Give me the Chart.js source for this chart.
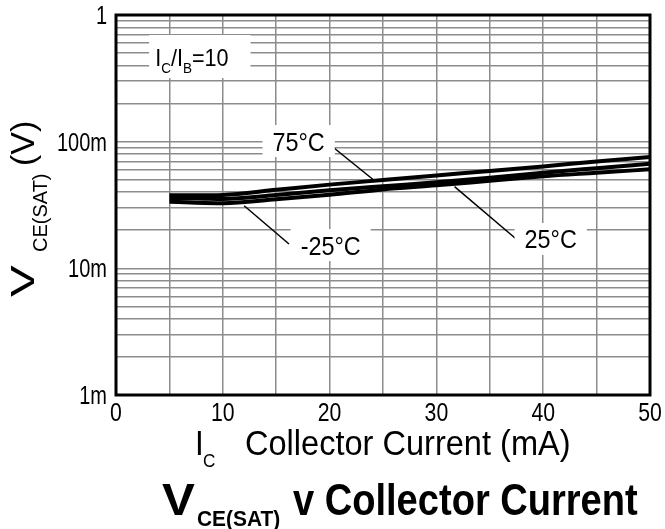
<!DOCTYPE html>
<html>
<head>
<meta charset="utf-8">
<script src="https://cdn.jsdelivr.net/npm/chart.js@4.4.1/dist/chart.umd.min.js"></script>
<style>
  html, body { margin: 0; padding: 0; background: #fff; }
  canvas { display: block; }
</style>
</head>
<body>
<canvas id="chart" width="665" height="529"></canvas>
<script>
// collector current, mA
const currents = [5, 7.5, 10, 15, 20, 25, 30, 35, 40, 45, 50];
// VCE(sat) in volts
const vce75 = [0.0377, 0.0377, 0.0380, 0.0417, 0.0458, 0.0498, 0.0541, 0.0587, 0.0638, 0.0697, 0.0756];
const vce25 = [0.0356, 0.0356, 0.0353, 0.0379, 0.0413, 0.0445, 0.0478, 0.0519, 0.0569, 0.0618, 0.0670];
const vceM25 = [0.0336, 0.0330, 0.0327, 0.0351, 0.0381, 0.0420, 0.0452, 0.0491, 0.0533, 0.0568, 0.0605];

const yDecades = [0.001, 0.01, 0.1, 1];
const yDecadeLabels = ['1m', '10m', '100m', '1'];
const xTickLabels = [0, 10, 20, 30, 40, 50];

// curve labels: text, label position, pointer from -> to (data units)
const curveNotes = [
  { text: '75°C', x: 17.1, y: 0.1012, from: [20.3, 0.0908], to: [24.3, 0.0485] },
  { text: '-25°C', x: 20.1, y: 0.01528, from: [16.2, 0.01556], to: [12.0, 0.0312] },
  { text: '25°C', x: 40.7, y: 0.01705, from: [37.8, 0.01614], to: [31.7, 0.0442] }
];
const ratioNote = { x: 7.1, y: 0.466 };

const FONT = "'Liberation Sans', Arial, sans-serif";

function toPoints(ys) {
  return currents.map((c, i) => ({ x: c, y: ys[i] }));
}

function setFont(ctx, size, bold) {
  ctx.font = (bold ? 'bold ' : '') + size + 'px ' + FONT;
}

// horizontally squeezed text, returns drawn width
function sText(ctx, text, x, y, size, sx, bold, align) {
  setFont(ctx, size, bold);
  const w = ctx.measureText(text).width * sx;
  let x0 = x;
  if (align === 'center') x0 = x - w / 2;
  if (align === 'right') x0 = x - w;
  ctx.save();
  ctx.translate(x0, y);
  ctx.scale(sx, 1);
  ctx.textAlign = 'left';
  ctx.fillText(text, 0, 0);
  ctx.restore();
  return w;
}
function sWidth(ctx, text, size, sx, bold) {
  setFont(ctx, size, bold);
  return ctx.measureText(text).width * sx;
}

const notesPlugin = {
  id: 'notes',
  beforeDatasetsDraw(chart) {
    const ctx = chart.ctx;
    const xs = chart.scales.x, ys = chart.scales.y;
    ctx.save();
    ctx.strokeStyle = '#000';
    ctx.lineWidth = 1.5;
    ctx.textBaseline = 'alphabetic';
    curveNotes.forEach(n => {
      ctx.beginPath();
      ctx.moveTo(xs.getPixelForValue(n.from[0]), ys.getPixelForValue(n.from[1]));
      ctx.lineTo(xs.getPixelForValue(n.to[0]), ys.getPixelForValue(n.to[1]));
      ctx.stroke();
      const w = sWidth(ctx, n.text, 26, 0.9, false);
      const cx = xs.getPixelForValue(n.x), cy = ys.getPixelForValue(n.y);
      ctx.fillStyle = '#fff';
      ctx.fillRect(cx - w / 2 - 10, cy - 16, w + 20, 32);
      ctx.fillStyle = '#000';
      sText(ctx, n.text, cx, cy + 9.5, 26, 0.9, false, 'center');
    });
    // IC/IB=10 box
    const cx = xs.getPixelForValue(ratioNote.x), cy = ys.getPixelForValue(ratioNote.y);
    const parts = [['I', 24, 0], ['C', 15, 7], ['/I', 24, 0], ['B', 15, 7], ['=10', 24, 0]];
    let tw = 0;
    parts.forEach(p => { tw += sWidth(ctx, p[0], p[1], 0.9, false); });
    const left = cx - tw / 2;
    ctx.fillStyle = '#fff';
    ctx.fillRect(left - 6, cy - 22, tw + 28, 43);
    ctx.fillStyle = '#000';
    let px = left;
    parts.forEach(p => { px += sText(ctx, p[0], px, cy + 8.5 + p[2], p[1], 0.9, false, 'left'); });
    ctx.restore();
  },
  afterDraw(chart) {
    const ctx = chart.ctx;
    const a = chart.chartArea;
    const xs = chart.scales.x, ys = chart.scales.y;
    ctx.save();
    ctx.strokeStyle = '#000';
    ctx.lineWidth = 3;
    ctx.strokeRect(a.left, a.top, a.right - a.left, a.bottom - a.top);
    ctx.fillStyle = '#000';
    ctx.textBaseline = 'alphabetic';
    // tick labels, placed with the chart scales
    xTickLabels.forEach(v => {
      sText(ctx, String(v), xs.getPixelForValue(v), 421, 25, 0.85, false, 'center');
    });
    yDecades.forEach((v, i) => {
      sText(ctx, yDecadeLabels[i], a.left - 9, ys.getPixelForValue(v) + 9, 25, 0.8, false, 'right');
    });
    // x axis title
    sText(ctx, 'I', 195, 455, 35, 0.9, false, 'left');
    sText(ctx, 'C', 203, 467, 19, 0.9, false, 'left');
    sText(ctx, 'Collector Current (mA)', 245, 455, 35, 0.93, false, 'left');
    // y axis title (rotated)
    ctx.translate(34, 297);
    ctx.rotate(-Math.PI / 2);
    sText(ctx, 'V', 0, 0, 34, 1.4, false, 'left');
    sText(ctx, 'CE(SAT)', 45, 13, 20, 1.0, false, 'left');
    sText(ctx, '(V)', 131, 0, 34, 1.0, false, 'left');
    ctx.setTransform(1, 0, 0, 1, 0, 0);
    // chart title
    sText(ctx, 'V', 162, 515, 44, 1.12, true, 'left');
    sText(ctx, 'CE(SAT)', 197, 526, 22, 0.95, true, 'left');
    sText(ctx, 'v Collector Current', 293, 515, 44, 0.865, true, 'left');
    ctx.restore();
  }
};

function buildLogTicks(scale) {
  const t = [];
  yDecades.forEach(d => {
    for (let k = 1; k <= 9; k++) {
      const v = d * k;
      if (v <= 1.0000001) t.push({ value: v });
    }
  });
  scale.ticks = t;
}

const lineStyle = {
  borderColor: '#000',
  borderWidth: 4,
  pointRadius: 0,
  fill: false,
  cubicInterpolationMode: 'monotone'
};

new Chart(document.getElementById('chart').getContext('2d'), {
  type: 'line',
  data: {
    datasets: [
      Object.assign({ label: '75°C', data: toPoints(vce75) }, lineStyle),
      Object.assign({ label: '25°C', data: toPoints(vce25) }, lineStyle),
      Object.assign({ label: '-25°C', data: toPoints(vceM25) }, lineStyle)
    ]
  },
  options: {
    responsive: false,
    animation: false,
    devicePixelRatio: 1,
    layout: { padding: { top: 15, right: 15, left: 0, bottom: 0 } },
    plugins: { legend: { display: false }, tooltip: { enabled: false } },
    scales: {
      x: {
        type: 'linear',
        min: 0,
        max: 50,
        afterFit: s => { s.height = 134; },
        ticks: { stepSize: 5, display: false },
        grid: { color: '#8c8c8c', lineWidth: 1.5, drawTicks: false },
        border: { display: false }
      },
      y: {
        type: 'logarithmic',
        min: 0.001,
        max: 1,
        afterFit: s => { s.width = 116; },
        afterBuildTicks: buildLogTicks,
        ticks: { display: false },
        grid: { color: '#8c8c8c', lineWidth: 1.5, drawTicks: false },
        border: { display: false }
      }
    }
  },
  plugins: [notesPlugin]
});
</script>
</body>
</html>
